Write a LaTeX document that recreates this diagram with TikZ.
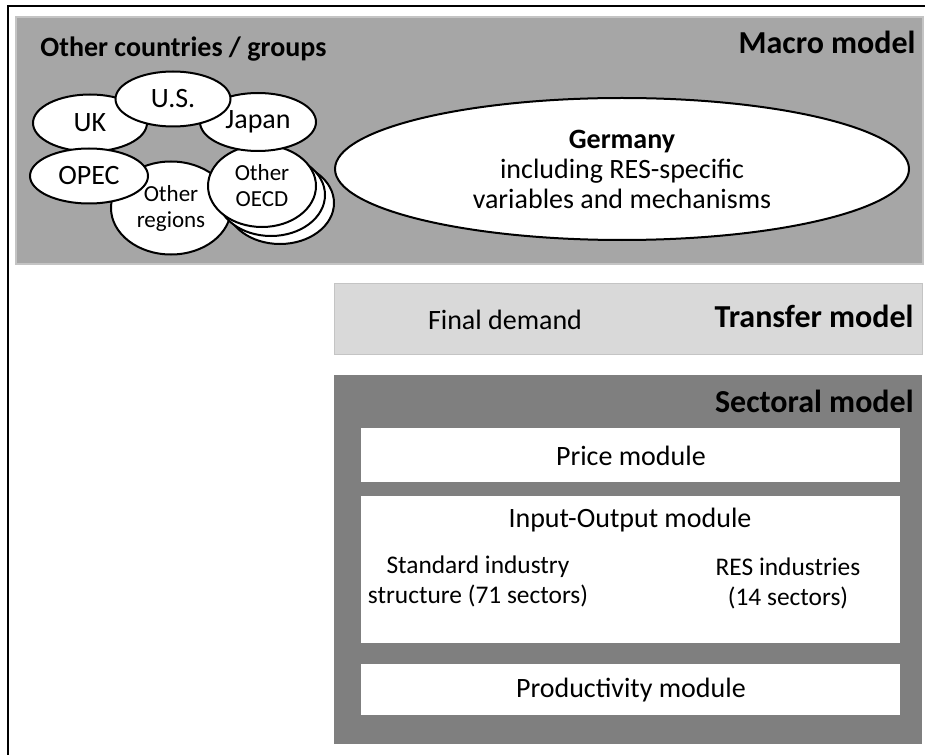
\documentclass[tikz,border=0pt]{standalone}
\usepackage{fontspec}
\setmainfont{Carlito}
\usetikzlibrary{shapes.geometric}

\definecolor{macrogray}{RGB}{166,166,166}
\definecolor{transgray}{RGB}{217,217,217}
\definecolor{sectgray}{RGB}{127,127,127}
\definecolor{rimgray}{RGB}{196,196,196}

\begin{document}
\begin{tikzpicture}[x=0.5pt,y=-0.5pt,
    panel/.style={rectangle,anchor=north west,inner sep=0pt},
    title/.style={anchor=base east,inner sep=0pt,font=\fontsize{16}{18}\selectfont\bfseries},
    body/.style={inner sep=0pt,align=center,font=\fontsize{14}{15}\selectfont},
    country/.style={ellipse,draw=black,line width=1pt,fill=white,inner sep=0pt,
                    align=center,font=\fontsize{14}{15}\selectfont},
    smallcountry/.style={country,font=\fontsize{11.5}{13}\selectfont}]

  % page is 925 x 754 (1 unit = 0.5pt, y downwards)
  \useasboundingbox (0,0) rectangle (925,754);

  % outer frame, runs off to the right and bottom
  \draw[line width=1.1pt] (8,770) -- (8,6) -- (940,6);

  %==========================
  % Macro model
  %==========================
  \node[panel,fill=macrogray,draw=rimgray,line width=0.8pt,
        minimum width=453.5pt,minimum height=123.5pt] (macro) at (15,16) {};
  \node[title] (macrotitle) at (916,54) {Macro model};
  \node[title,anchor=base west,font=\fontsize{14}{16}\selectfont\bfseries]
    (otherstitle) at (40,57) {Other countries / groups};

  % other countries (drawn back to front)
  \node[smallcountry,minimum width=60pt,minimum height=46.5pt] (regions) at (171,208) {Other\\regions};
  % stacked copies behind Other OECD
  \node[country,minimum width=54pt,minimum height=41pt] (oecdback) at (280,203) {};
  \node[country,minimum width=54pt,minimum height=41pt] (oecdmid) at (271,195) {};
  \node[smallcountry,minimum width=54pt,minimum height=41pt] (oecd) at (262,186) {Other\\OECD};
  \node[country,minimum width=58pt,minimum height=29pt] (japan) at (258,122) {Japan};
  \node[country,minimum width=57pt,minimum height=28.5pt] (uk) at (90,123) {UK};
  \node[country,minimum width=59pt,minimum height=27.5pt] (opec) at (89,176) {OPEC};
  \node[country,minimum width=57.5pt,minimum height=27.5pt] (us) at (173,99) {U.S.};

  % Germany
  \node[country,minimum width=287pt,minimum height=71pt] (germany) at (622,169)
    {\textbf{Germany}\\including RES-specific\\variables and mechanisms};

  %==========================
  % Transfer model
  %==========================
  \node[panel,fill=transgray,draw=rimgray,line width=0.6pt,
        minimum width=294pt,minimum height=35.5pt] (transfer) at (334,283) {};
  \node[title] (transfertitle) at (914,327) {Transfer model};
  \node[body,anchor=base] (demand) at (505,329) {Final demand};

  %==========================
  % Sectoral model
  %==========================
  \def\modw{269.5pt}
  \node[panel,fill=sectgray,minimum width=294pt,minimum height=184.5pt] (sectoral) at (334,375) {};
  \node[title] (sectoraltitle) at (914,412) {Sectoral model};

  \node[panel,fill=white,body,minimum width=\modw,minimum height=27pt] (price) at (361,428) {Price module};

  \node[panel,fill=white,minimum width=\modw,minimum height=73.5pt] (io) at (361,496) {};
  \node[body] (iotitle) at (630,520) {Input-Output module};
  \node[body,font=\fontsize{12.7}{15}\selectfont] (standard) at (478,581) {Standard industry\\structure (71 sectors)};
  \node[body,font=\fontsize{12.7}{15}\selectfont] (resind) at (788,583) {RES industries\\(14 sectors)};

  \node[panel,fill=white,body,minimum width=\modw,minimum height=25.5pt] (prod) at (361,664) {Productivity module};

\end{tikzpicture}
\end{document}
